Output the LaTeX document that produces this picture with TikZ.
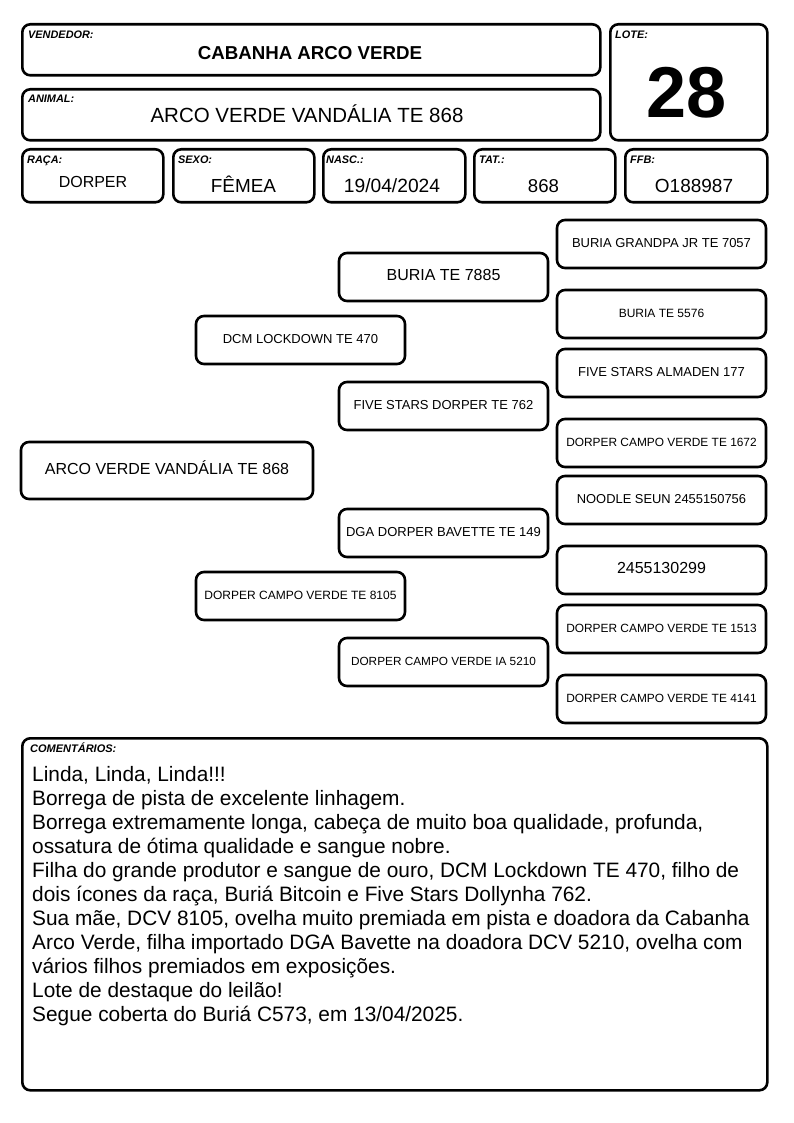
\documentclass[tikz,border=0pt]{standalone}
\usepackage{fontspec}
\setmainfont{Liberation Sans}
\begin{document}
\begin{tikzpicture}[x=1pt,y=-1pt,
  box/.style={draw=black,line width=2.6pt,rounded corners=8pt,fill=white,inner sep=0pt,anchor=north west},
  ped/.style={draw=black,line width=2.6pt,rounded corners=8pt,inner sep=0pt,minimum width=209pt,minimum height=48pt,text height=.716em,text depth=0pt,yshift=-1pt,font=\fontsize{#1}{#1}\selectfont},
  lbl/.style={anchor=base west,inner sep=0pt,font=\fontsize{10.9}{12}\selectfont\bfseries\itshape},
  val/.style={anchor=base,inner sep=0pt,font=\fontsize{#1}{#1}\selectfont},
  cmt/.style={anchor=base west,inner sep=0pt,font=\fontsize{20.85}{24}\selectfont}]
\useasboundingbox (0,0) rectangle (794,1123);
% header boxes
\node[box,minimum width=578pt,minimum height=51pt] (vend) at (21,23) {};
\node[box,minimum width=578pt,minimum height=51pt] (anim) at (21,88) {};
\node[box,minimum width=157pt,minimum height=116pt] (lote) at (609,23) {};
\node[box,minimum width=141pt,minimum height=53pt] (raca) at (21,148) {};
\node[box,minimum width=141pt,minimum height=53pt] (sexo) at (172,148) {};
\node[box,minimum width=142pt,minimum height=53pt] (nasc) at (322,148) {};
\node[box,minimum width=141pt,minimum height=53pt] (tat) at (473,148) {};
\node[box,minimum width=142pt,minimum height=53pt] (ffb) at (624,148) {};
% labels
\node[lbl] (lvend) at (28,39) {VENDEDOR:};
\node[lbl] (lanim) at (28,103) {ANIMAL:};
\node[lbl] (llote) at (615,38.5) {LOTE:};
\node[lbl] (lraca) at (27,164) {RAÇA:};
\node[lbl] (lsexo) at (178,164) {SEXO:};
\node[lbl] (lnasc) at (326,164) {NASC.:};
\node[lbl] (ltat) at (479,164) {TAT.:};
\node[lbl] (lffb) at (630,164) {FFB:};
% values
\node[val=18.7,font=\fontsize{18.7}{20}\selectfont\bfseries] (vvend) at (310,59.5) {CABANHA ARCO VERDE};
\node[val=20.5] (vanim) at (307,123) {ARCO VERDE VANDÁLIA TE 868};
\node[val=72,font=\fontsize{72}{72}\selectfont\bfseries] (vlote) at (687,117.5) {28};
\node[val=16] (vraca) at (93,188) {DORPER};
\node[val=18.9] (vsexo) at (243.5,193) {FÊMEA};
\node[val=19.2] (vnasc) at (392,193) {19/04/2024};
\node[val=18.6] (vtat) at (543.5,193) {868};
\node[val=19] (vffb) at (694,193) {O188987};
% pedigree
\node[ped=16,minimum width=292pt,minimum height=57pt] (root) at (167,469.5) {ARCO VERDE VANDÁLIA TE 868};
\node[ped=13] (sire) at (300.5,339) {DCM LOCKDOWN TE 470};
\node[ped=12] (dam) at (300.5,595) {DORPER CAMPO VERDE TE 8105};
\node[ped=16] (ss) at (443.5,276) {BURIA TE 7885};
\node[ped=13] (sd) at (443.5,405) {FIVE STARS DORPER TE 762};
\node[ped=13] (ds) at (443.5,532) {DGA DORPER BAVETTE TE 149};
\node[ped=11.8] (dd) at (443.5,661) {DORPER CAMPO VERDE IA 5210};
\node[ped=13] (sss) at (661.5,243) {BURIA GRANDPA JR TE 7057};
\node[ped=12] (ssd) at (661.5,313) {BURIA TE 5576};
\node[ped=13] (sds) at (661.5,372) {FIVE STARS ALMADEN 177};
\node[ped=11.9] (sdd) at (661.5,442) {DORPER CAMPO VERDE TE 1672};
\node[ped=12.9] (dss) at (661.5,499) {NOODLE SEUN 2455150756};
\node[ped=16] (dsd) at (661.5,569) {2455130299};
\node[ped=11.9] (dds) at (661.5,628) {DORPER CAMPO VERDE TE 1513};
\node[ped=11.9] (ddd) at (661.5,698) {DORPER CAMPO VERDE TE 4141};
% comments
\node[box,minimum width=745pt,minimum height=352pt] (com) at (21,737) {};
\node[lbl,font=\fontsize{11}{12}\selectfont\bfseries\itshape] (lcom) at (30,752) {COMENTÁRIOS:};
\node[cmt] (c1) at (32,781) {Linda, Linda, Linda!!!};
\node[cmt] (c2) at (32,805) {Borrega de pista de excelente linhagem.};
\node[cmt] (c3) at (32,829) {Borrega extremamente longa, cabeça de muito boa qualidade, profunda,};
\node[cmt] (c4) at (32,853) {ossatura de ótima qualidade e sangue nobre.};
\node[cmt] (c5) at (32,877) {Filha do grande produtor e sangue de ouro, DCM Lockdown TE 470, filho de};
\node[cmt] (c6) at (32,901) {dois ícones da raça, Buriá Bitcoin e Five Stars Dollynha 762.};
\node[cmt] (c7) at (32,925) {Sua mãe, DCV 8105, ovelha muito premiada em pista e doadora da Cabanha};
\node[cmt] (c8) at (32,949) {Arco Verde, filha importado DGA Bavette na doadora DCV 5210, ovelha com};
\node[cmt] (c9) at (32,973) {vários filhos premiados em exposições.};
\node[cmt] (c10) at (32,997) {Lote de destaque do leilão!};
\node[cmt] (c11) at (32,1021) {Segue coberta do Buriá C573, em 13/04/2025.};
\end{tikzpicture}
\end{document}
